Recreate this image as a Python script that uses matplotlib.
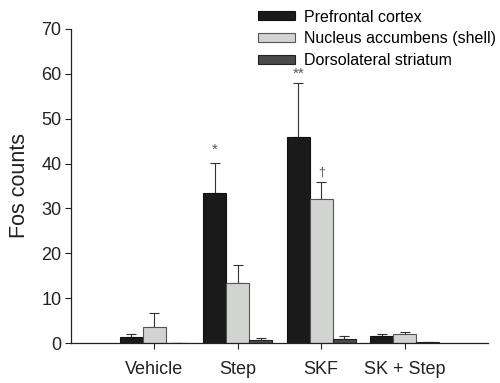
import numpy as np
import matplotlib
matplotlib.use("Agg")
import matplotlib.pyplot as plt

plt.rcParams["font.family"] = ["Liberation Sans", "DejaVu Sans"]

groups = ["Vehicle", "Step", "SKF", "SK + Step"]
regions = ["Prefrontal cortex", "Nucleus accumbens (shell)", "Dorsolateral striatum"]

# mean Fos counts and SEM per region
pfc = [1.4, 33.5, 46.0, 1.5]
pfc_err = [0.5, 6.6, 11.9, 0.5]
nac = [3.6, 13.4, 32.0, 2.1]
nac_err = [3.0, 4.0, 3.9, 0.4]
dls = [0.0, 0.7, 1.0, 0.2]
dls_err = [0.0, 0.4, 0.5, 0.1]

colors = ["#1a1a1a", "#d2d4d2", "#4a4a4a"]
edges = ["#111111", "#555555", "#222222"]

fig = plt.figure(figsize=(5, 3.83), dpi=100)
ax = fig.add_axes([0.142, 0.1044, 0.834, 0.82])

x = np.arange(1, len(groups) + 1)
w = 0.275
series = [(pfc, pfc_err), (nac, nac_err), (dls, dls_err)]
for i, (vals, errs) in enumerate(series):
    pos = x + (i - 1) * w
    ax.bar(pos, vals, width=w, color=colors[i], edgecolor=edges[i],
           linewidth=0.8, label=regions[i], zorder=2)
    ax.errorbar(pos, vals, yerr=[np.zeros(len(errs)), errs], fmt="none",
                ecolor="#333333", elinewidth=0.8, capsize=3.5, capthick=0.8,
                zorder=1)

# significance marks
ax.text(x[1] - w, pfc[1] + pfc_err[1] + 1.3, "*", ha="center", va="bottom",
        fontsize=11, color="#555555")
ax.text(x[2] - w, pfc[2] + pfc_err[2] + 0.6, "**", ha="center", va="bottom",
        fontsize=11, color="#555555")
ax.text(x[2], nac[2] + nac_err[2] + 0.8, "\u2020", ha="center", va="bottom",
        fontsize=9, color="#555555")

ax.set_xlim(0, 5)
ax.set_ylim(0, 70)
ax.set_yticks(range(0, 71, 10))
ax.set_xticks(x)
ax.set_xticklabels(groups)
ax.tick_params(axis="y", direction="out", length=4, width=0.8, pad=3,
               labelsize=13, colors="#222222")
ax.tick_params(axis="x", direction="out", length=4, width=0.8, pad=9,
               labelsize=13, colors="#222222")
ax.set_ylabel("Fos counts", fontsize=15.5, labelpad=8, color="#222222")
for s in ["top", "right"]:
    ax.spines[s].set_visible(False)
for s in ["left", "bottom"]:
    ax.spines[s].set_linewidth(0.9)
    ax.spines[s].set_color("#222222")

fig.legend(*ax.get_legend_handles_labels(), loc="upper left",
           bbox_to_anchor=(0.516, 0.975), frameon=False,
           fontsize=11.5, handlelength=2.3, handleheight=0.5,
           handletextpad=0.6, labelspacing=0.42, borderpad=0, borderaxespad=0)

fig.savefig("out.png", dpi=100)
